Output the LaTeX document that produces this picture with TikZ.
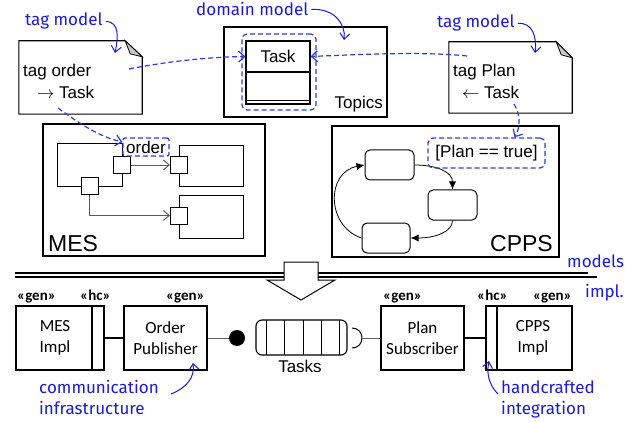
\documentclass[tikz,border=0pt]{standalone}
\usepackage{fontspec}
\setmainfont{Liberation Sans}
\newfontfamily\calfont{Carlito}
\newfontfamily\annfont{Fira Sans}
\usetikzlibrary{arrows.meta}
\definecolor{annblue}{RGB}{25,25,225}
\definecolor{dblue}{RGB}{45,60,225}
\definecolor{foldgray}{RGB}{200,200,200}
\definecolor{conngray}{RGB}{90,90,90}
\begin{document}
\begin{tikzpicture}[x=1pt,y=-1pt,
  box/.style={draw, line width=1.1pt, fill=white, inner sep=0pt},
  port/.style={draw, line width=1pt, fill=white, inner sep=0pt, minimum size=17pt},
  state/.style={draw, line width=1pt, fill=white, inner sep=0pt, rounded corners=5pt},
  txt/.style={inner sep=0pt, font=\fontsize{17}{20}\selectfont},
  bigtxt/.style={inner sep=0pt, font=\fontsize{23}{26}\selectfont},
  caltxt/.style={inner sep=0pt, font=\calfont\fontsize{17}{21}\selectfont, align=center},
  stereo/.style={inner sep=0pt, font=\calfont\bfseries\fontsize{15}{18}\selectfont},
  ann/.style={inner sep=0pt, text=annblue, font=\annfont\fontsize{17}{21}\selectfont},
  annarrow/.style={draw=annblue, line width=1pt, -{Straight Barb[length=6pt,width=10pt]}},
  dashconn/.style={draw=dblue, line width=1.2pt, dash pattern=on 5pt off 3pt, -{Straight Barb[length=6pt,width=11pt]}},
  dashbox/.style={draw=dblue, line width=1.2pt, dash pattern=on 5pt off 3pt, rounded corners=5pt},
  grayarrow/.style={draw=conngray, line width=0.9pt, -{Straight Barb[length=6pt,width=10pt]}},
  statearrow/.style={draw, line width=0.8pt, -{Latex[length=8pt,width=7pt]}},
  note/.style={draw, line width=1.1pt, fill=white}
]
\useasboundingbox (0,0) rectangle (642,422);

% ---------- note 1 ----------
\node[inner sep=0, minimum width=123pt, minimum height=73pt] (n1) at (80.5,77.5) {};
\draw[note] (n1.north west) -- ([xshift=-17pt]n1.north east) -- ([yshift=-16pt]n1.north east) -- (n1.south east) -- (n1.south west) -- cycle;
\draw[line width=0.8pt, fill=foldgray] ([xshift=-17pt]n1.north east) -- ([xshift=-12pt,yshift=-13pt]n1.north east) -- ([yshift=-16pt]n1.north east) -- cycle;
\node[txt, anchor=base west] (t1a) at (23,77) {tag order};
\node[txt, anchor=base west] (t1b) at (37,99) {$\rightarrow$ Task};

% ---------- note 2 ----------
\node[inner sep=0, minimum width=123pt, minimum height=71pt] (n2) at (510.5,77.5) {};
\draw[note] (n2.north west) -- ([xshift=-16pt]n2.north east) -- ([yshift=-16pt]n2.north east) -- (n2.south east) -- (n2.south west) -- cycle;
\draw[line width=0.8pt, fill=foldgray] ([xshift=-16pt]n2.north east) -- ([xshift=-11pt,yshift=-13pt]n2.north east) -- ([yshift=-16pt]n2.north east) -- cycle;
\node[txt, anchor=base west] (t2a) at (453,77) {tag Plan};
\node[txt, anchor=base west] (t2b) at (462,99) {$\leftarrow$ Task};

% ---------- domain model ----------
\node[box, minimum width=163pt, minimum height=90pt] (dom) at (305.5,72) {};
\node[txt, anchor=base east] (topics) at (383,109) {Topics};
\node[dashbox, minimum width=74pt, minimum height=76pt, inner sep=0] (taskgrp) at (279,72) {};
\node[box, minimum width=64pt, minimum height=31pt] (taskh) at (278,56.5) {};
\node[txt] at (taskh.center) {Task};
\node[box, minimum width=64pt, minimum height=32pt] (taskb) at (278,88) {};
\draw[line width=1pt] ([yshift=4pt]taskb.south west) -- ([yshift=4pt]taskb.south east);

% ---------- MES ----------
\node[box, minimum width=222pt, minimum height=132pt] (mes) at (154,190) {};
\node[bigtxt, anchor=base west] at (48,251) {MES};
\node[box, line width=1pt, minimum width=65pt, minimum height=43pt] (c1) at (89.5,165.5) {};
\node[box, line width=1pt, minimum width=64pt, minimum height=41pt] (c2) at (211,166.5) {};
\node[box, line width=1pt, minimum width=64pt, minimum height=42pt] (c3) at (211,217) {};
\node[port] (pa) at (121.5,165) {};
\node[port] (pb) at (89.5,186.5) {};
\node[port] (pc) at (179,165) {};
\node[port] (pd) at (179,215.5) {};
\draw[grayarrow] (pa.east) -- (pc.west);
\draw[grayarrow] (pb.south) |- (pd.west);
\node[dashbox, rounded corners=2pt, fill=white, minimum width=46pt, minimum height=18pt, inner sep=0, font=\fontsize{17}{20}\selectfont] (order) at (146,147) {order};

% ---------- CPPS ----------
\node[box, minimum width=227pt, minimum height=131pt] (cpps) at (445.5,191.5) {};
\node[bigtxt, anchor=base east] at (553,251) {CPPS};
\node[state, minimum width=49pt, minimum height=30pt] (s1) at (389.5,165) {};
\node[state, minimum width=49pt, minimum height=30pt] (s2) at (452.5,205) {};
\node[state, minimum width=48pt, minimum height=30pt] (s3) at (386,238) {};
\draw[statearrow] (s1.east) .. controls (437,165) and (452.5,172) .. (s2.north);
\draw[statearrow] (s2.south) .. controls (452.5,232) and (435,238) .. (s3.east);
\draw[statearrow] (s3.west) .. controls (326,226) and (326,172) .. (s1.west);
\node[dashbox, minimum width=117pt, minimum height=30pt, inner sep=0, font=\fontsize{17}{20}\selectfont] (plan) at (486.5,153) {[Plan == true]};

% ---------- blue dashed connectors ----------
\coordinate (d1) at (129,69);
\coordinate (d2) at (467,56);
\coordinate (d3) at (58,108);
\coordinate (d4) at (514,104);
\draw[dashconn] (d1) .. controls (170,61) and (210,57) .. (taskh.west);
\draw[dashconn] (d2) .. controls (420,51) and (350,55) .. (taskh.east);
\draw[dashconn] (d3) .. controls (80,124) and (100,137) .. ([yshift=5pt]order.west);
\draw[dashconn] (d4) .. controls (521,115) and (520,128) .. ([xshift=28pt]plan.north);

% ---------- annotations top ----------
\node[ann, anchor=base west] (tm1) at (25,26) {tag model};
\coordinate (tm1t) at (115,53);
\draw[annarrow] ([xshift=3pt]tm1.east) .. controls (120,22) and (118,38) .. (tm1t);
\node[ann, anchor=base west] (dm) at (196,16) {domain model};
\coordinate (dmt) at (344,40);
\draw[annarrow] ([xshift=3pt]dm.east) .. controls (335,8) and (346,25) .. (dmt);
\node[ann, anchor=base west] (tm2) at (437,28) {tag model};
\coordinate (tm2t) at (535,53);
\draw[annarrow] ([xshift=3pt]tm2.east) .. controls (533,22) and (537,38) .. (tm2t);

% ---------- separator ----------
\coordinate (l1a) at (15,273); \coordinate (l1b) at (588,273);
\coordinate (l2a) at (15,277); \coordinate (l2b) at (597,277);
\draw[line width=1.1pt] (l1a) -- (l1b);
\draw[line width=1.1pt] (l2a) -- (l2b);
\draw[line width=1pt, fill=white] (284,262) -- (318,262) -- (318,280) -- (335,280) -- (301,300) -- (267,280) -- (284,280) -- cycle;
\node[ann, anchor=base west] (models) at (567,267) {models};
\node[ann, anchor=base west] (impl) at (585,297) {impl.};

% ---------- implementation row ----------
\node[box, minimum width=88pt, minimum height=64pt] (mesi) at (60,338) {};
\draw[line width=1.1pt] (92,306) -- (92,370);
\node[caltxt] at (55,338) {MES\\Impl};
\node[stereo, anchor=base west] at (17,300) {«gen»};
\node[stereo, anchor=base west] at (80,300) {«hc»};

\node[box, minimum width=83pt, minimum height=64pt] (op) at (165.5,338) {};
\node[caltxt] at (op.center) {Order\\Publisher};
\node[stereo, anchor=base east] at (205,300) {«gen»};

\node[circle, fill=black, minimum size=16pt, inner sep=0] (ball) at (237,338) {};

\node[draw, line width=1.1pt, rounded corners=6pt, minimum width=91pt, minimum height=35pt, inner sep=0] (queue) at (301.5,337.5) {};
\foreach \x in {266,284,303,321,339} \draw[line width=1pt] (\x,320) -- (\x,355);
\node[txt, anchor=base] at (300,372) {Tasks};

\draw[line width=1pt] (352,328) .. controls (365.3,328) and (365.3,348) .. (352,348);
\coordinate (sock) at (362,338);

\node[box, minimum width=83pt, minimum height=64pt] (ps) at (422.5,338) {};
\node[caltxt] at (ps.center) {Plan\\Subscriber};
\node[stereo, anchor=base west] at (383,300) {«gen»};

\node[box, minimum width=86pt, minimum height=64pt] (cppsi) at (529,338) {};
\draw[line width=1.1pt] (497,306) -- (497,370);
\node[caltxt] at (533,338) {CPPS\\Impl};
\node[stereo, anchor=base west] at (477,300) {«hc»};
\node[stereo, anchor=base east] at (572,300) {«gen»};

\draw[line width=1.1pt] (mesi.east) -- (op.west);
\draw[line width=1pt, conngray] (op.east) -- (ball.west);
\draw[line width=1pt, conngray] (sock) -- (ps.west);
\draw[line width=1.1pt] (ps.east) -- (cppsi.west);

% ---------- annotations bottom ----------
\node[ann, anchor=base west, align=left] (comm) at (39,393) {communication};
\node[ann, anchor=base west] (infra) at (39,414) {infrastructure};
\coordinate (commt) at (193,363);
\draw[annarrow] (171,394) .. controls (186,388) and (195,378) .. (commt);
\node[ann, anchor=base west] (hand) at (501,393) {handcrafted};
\node[ann, anchor=base west] (integ) at (501,414) {integration};
\coordinate (handt) at (489,361);
\draw[annarrow] (498,394) .. controls (490,386) and (486,375) .. (handt);
\end{tikzpicture}
\end{document}
